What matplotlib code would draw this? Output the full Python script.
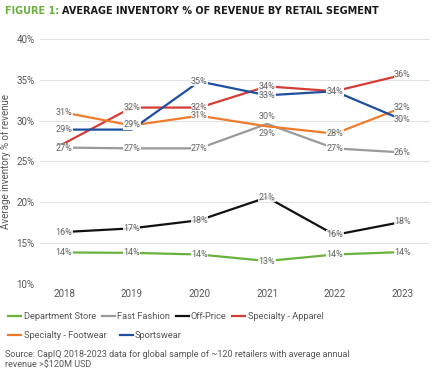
import matplotlib.pyplot as plt

plt.rcParams['font.family'] = ['Roboto', 'DejaVu Sans']

years = [2018, 2019, 2020, 2021, 2022, 2023]

dept_store = [13.85, 13.8, 13.6, 12.8, 13.6, 13.9]
fast_fashion = [26.7, 26.6, 26.6, 29.6, 26.6, 26.1]
off_price = [16.35, 16.8, 17.8, 20.6, 16.0, 17.6]
spec_apparel = [27.2, 31.6, 31.6, 34.2, 33.6, 35.6]
spec_footwear = [31.0, 29.4, 30.6, 29.3, 28.4, 31.6]
sportswear = [28.9, 28.9, 34.8, 33.1, 33.6, 30.1]

series = [
    ('Department Store', dept_store, '#6ab23e'),
    ('Fast Fashion', fast_fashion, '#9a9a9a'),
    ('Off-Price', off_price, '#111111'),
    ('Specialty - Apparel', spec_apparel, '#d63c35'),
    ('Specialty - Footwear', spec_footwear, '#f07b2b'),
    ('Sportswear', sportswear, '#1d4f9f'),
]

# label nudges (points): some labels sit on top of each other in the original
nudge = {('Fast Fashion', 2021): 5, ('Specialty - Footwear', 2021): -5,
         ('Specialty - Apparel', 2018): -3.6, ('Sportswear', 2019): 3.6}

fig = plt.figure(figsize=(4.39, 3.75), dpi=100)
ax = fig.add_axes([0.091, 0.243, 0.889, 0.653])

for name, vals, col in series:
    ax.plot(years, vals, color=col, lw=1.6, label=name, zorder=2)
    for x, v in zip(years, vals):
        dy = nudge.get((name, x), 0)
        ax.annotate(f'{round(v)}%', (x, v), xytext=(0, dy), textcoords='offset points',
                    ha='center', va='center', fontsize=6.5, color='#666666', zorder=3,
                    bbox=dict(boxstyle='square,pad=0.05', fc='white', ec='none', alpha=0.85))

ax.set_ylim(10, 40)
ax.set_xlim(2017.645, 2023.41)
ax.set_yticks([10, 15, 20, 25, 30, 35, 40])
ax.set_yticklabels([f'{t}%' for t in [10, 15, 20, 25, 30, 35, 40]])
ax.set_xticks(years)
ax.tick_params(length=0, labelsize=7, labelcolor='#555555', pad=4)
ax.grid(axis='y', color='#e2e2e2', lw=0.8)
ax.set_axisbelow(True)
for s in ax.spines.values():
    s.set_visible(False)
ax.set_ylabel('Average inventory % of revenue', fontsize=7, color='#555555', labelpad=4)

fig.text(0.012, 0.972, 'FIGURE 1:', fontsize=7, fontweight='bold', color='#6ab23e',
         family='DejaVu Sans', va='center')
fig.text(0.141, 0.972, 'AVERAGE INVENTORY % OF REVENUE BY RETAIL SEGMENT', fontsize=7,
         fontweight='bold', color='#1b1b1b', family='DejaVu Sans', va='center')

h, l = ax.get_legend_handles_labels()
fig.legend(h[:4], l[:4], loc='upper left', bbox_to_anchor=(0.0, 0.19), ncol=4, frameon=False,
           fontsize=6.7, handlelength=1.4, handletextpad=0.25, columnspacing=0.6, labelcolor='#555555')
fig.legend(h[4:], l[4:], loc='upper left', bbox_to_anchor=(0.0, 0.139), ncol=2, frameon=False,
           fontsize=6.7, handlelength=1.4, handletextpad=0.25, columnspacing=1.4, labelcolor='#555555')

fig.text(0.012, 0.042, 'Source: CapIQ 2018-2023 data for global sample of ~120 retailers with average annual\nrevenue >$120M USD',
         fontsize=6.5, color='#555555', va='center', linespacing=1.2)

fig.savefig('out.png', dpi=100)
